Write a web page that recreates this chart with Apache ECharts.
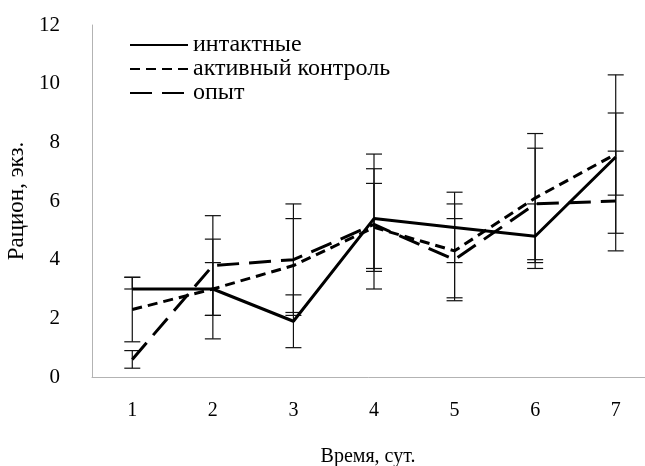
<!DOCTYPE html>
<html>
<head>
<meta charset="utf-8">
<script src="https://cdn.jsdelivr.net/npm/echarts@6/dist/echarts.min.js"></script>
<style>html,body{margin:0;padding:0;background:#fff;}#c{width:645px;height:466px;}</style>
</head>
<body>
<div id="c"></div>
<script>
const categories = ['1','2','3','4','5','6','7'];
const seriesNames = ['интактные','активный контроль','опыт'];
const intact = [3.0, 3.0, 1.9, 5.4, 5.1, 4.8, 7.5];
const intactHi = [3.4, 3.9, 2.8, 7.6, 6.3, 5.9, 10.3];
const intactLo = [3.0, 2.1, 1.0, 3.0, 3.9, 3.7, 4.9];
const active = [2.3, 3.0, 3.8, 5.1, 4.3, 6.1, 7.6];
const activeHi = [3.4, 4.7, 5.4, 7.1, 5.9, 8.3, 9.0];
const activeLo = [1.2, 1.3, 2.2, 3.6, 2.7, 3.9, 6.2];
const opyt = [0.6, 3.8, 4.0, 5.2, 4.0, 5.9, 6.0];
const opytHi = [0.9, 5.5, 5.9, 6.6, 5.4, 7.8, 7.7];
const opytLo = [0.3, 2.1, 2.1, 3.7, 2.6, 4.0, 4.3];
const yTicks = [0, 2, 4, 6, 8, 10, 12];

const FONT = '"Liberation Serif", "Times New Roman", serif';

function errData(lo, hi) {
  return categories.map((c, i) => [i, lo[i], hi[i]]);
}
function errSeries(lo, hi) {
  return {
    type: 'custom',
    data: errData(lo, hi),
    z: 1,
    silent: true,
    renderItem: function (params, api) {
      const x = api.value(0);
      const p1 = api.coord([x, api.value(1)]);
      const p2 = api.coord([x, api.value(2)]);
      const hw = 8;
      const st = { stroke: '#111', lineWidth: 1.2 };
      return {
        type: 'group',
        children: [
          { type: 'line', shape: { x1: p1[0], y1: p1[1], x2: p2[0], y2: p2[1] }, style: st },
          { type: 'line', shape: { x1: p1[0] - hw, y1: p1[1], x2: p1[0] + hw, y2: p1[1] }, style: st },
          { type: 'line', shape: { x1: p2[0] - hw, y1: p2[1], x2: p2[0] + hw, y2: p2[1] }, style: st }
        ]
      };
    }
  };
}

const chart = echarts.init(document.getElementById('c'), null, { renderer: 'canvas' });
chart.setOption({
  animation: false,
  backgroundColor: '#fff',
  textStyle: { fontFamily: FONT },
  grid: { left: 92, top: 25, width: 564, height: 352, containLabel: false, outerBoundsMode: 'none' },
  legend: {
    orient: 'vertical',
    left: 124,
    top: 28,
    itemWidth: 58,
    itemHeight: 14,
    itemGap: 0,
    data: seriesNames,
    itemStyle: { opacity: 0 },
    textStyle: { fontFamily: FONT, fontSize: 24, color: '#000', lineHeight: 23.5 }
  },
  xAxis: {
    type: 'category',
    data: categories,
    boundaryGap: true,
    name: 'Время, сут.',
    nameLocation: 'middle',
    nameGap: 70,
    nameTextStyle: { fontFamily: FONT, fontSize: 20, color: '#000', padding: [0, 12, 0, 0] },
    axisLine: { lineStyle: { color: '#b3b3b3', width: 1 } },
    axisTick: { show: false },
    axisLabel: { fontFamily: FONT, fontSize: 20, color: '#000', margin: 24 },
    splitLine: { show: false }
  },
  yAxis: {
    type: 'value',
    min: 0,
    max: 12,
    interval: 2,
    name: 'Рацион, экз.',
    nameLocation: 'middle',
    nameGap: 59,
    nameTextStyle: { fontFamily: FONT, fontSize: 23, color: '#000' },
    axisLine: { show: true, lineStyle: { color: '#b3b3b3', width: 1 } },
    axisTick: { show: false },
    axisLabel: { fontFamily: FONT, fontSize: 21, color: '#000', margin: 32,
      formatter: v => yTicks.includes(v) ? String(v) : '' },
    splitLine: { show: false }
  },
  series: [
    errSeries(intactLo, intactHi),
    errSeries(activeLo, activeHi),
    errSeries(opytLo, opytHi),
    { name: seriesNames[0], type: 'line', data: intact, symbol: 'none', z: 3,
      lineStyle: { color: '#000', width: 3, type: 'solid' }, itemStyle: { color: '#000' } },
    { name: seriesNames[1], type: 'line', data: active, symbol: 'none', z: 3,
      lineStyle: { color: '#000', width: 3, type: [10, 6] }, itemStyle: { color: '#000' } },
    { name: seriesNames[2], type: 'line', data: opyt, symbol: 'none', z: 3,
      lineStyle: { color: '#000', width: 3, type: [22, 10] }, itemStyle: { color: '#000' } }
  ]
});
</script>
</body>
</html>
